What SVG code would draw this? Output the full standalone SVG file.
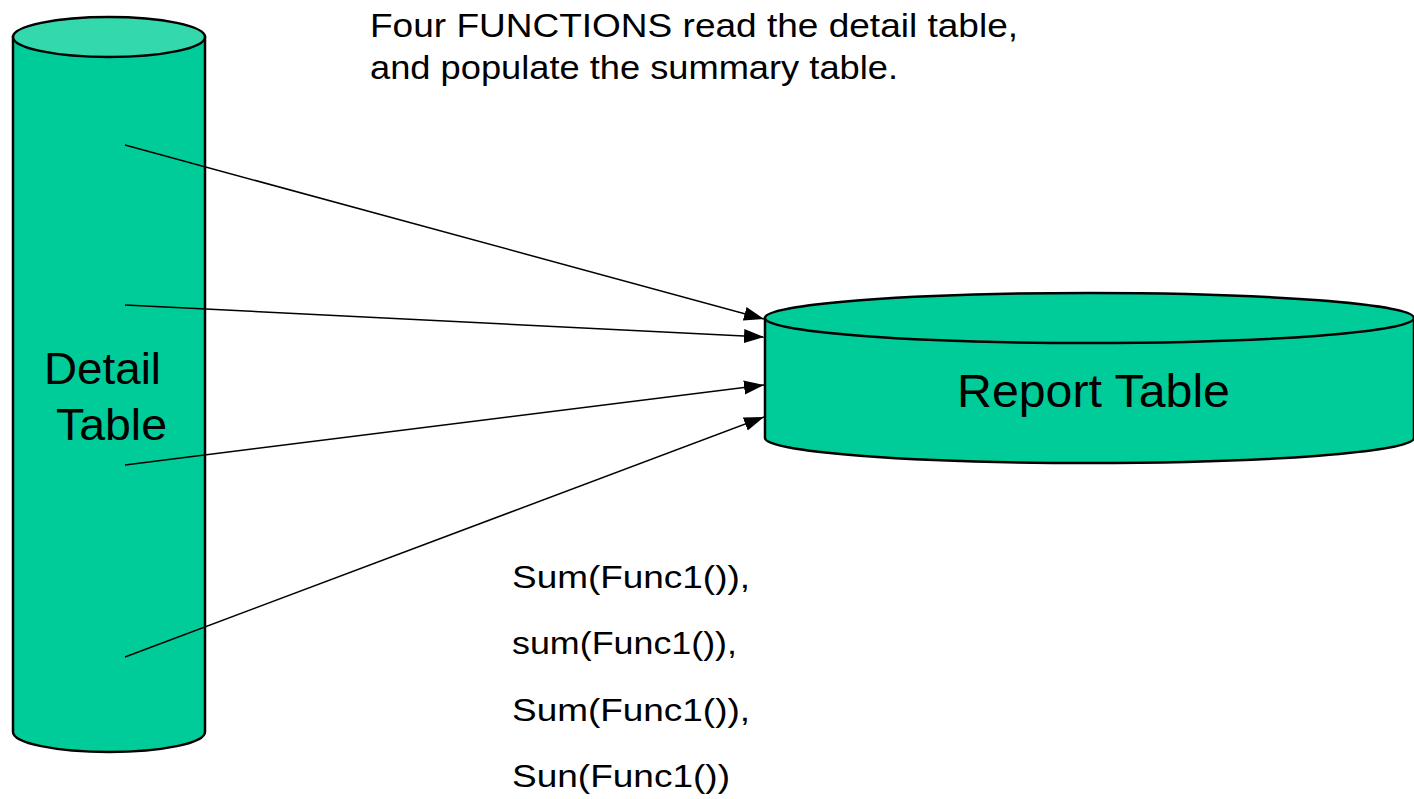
<svg xmlns="http://www.w3.org/2000/svg" width="1414" height="799" viewBox="0 0 1414 799">
<style>
.cyl{fill:#00CC99;stroke:#000;stroke-width:2.5}
.top{fill:#33D9AD;stroke:#000;stroke-width:2.5}
.t{font-family:"Liberation Sans",Arial,sans-serif;fill:#000}
.conn{stroke:#000;stroke-width:1.5;fill:none;marker-end:url(#ah)}
</style>
<defs>
<marker id="ah" markerWidth="20" markerHeight="16" refX="20" refY="8" orient="auto" markerUnits="userSpaceOnUse">
<path d="M0,1 L20,8 L0,15 Z" fill="#000"/>
</marker>
</defs>
<rect width="1414" height="799" fill="#fff"/>
<g id="detail-table">
<path class="cyl" d="M13,37 L13,732 A96,20 0 0 0 205,732 L205,37 Z"/>
<ellipse class="top" cx="109" cy="37" rx="96" ry="20"/>
<text class="t" x="44" y="384" font-size="45" textLength="117" lengthAdjust="spacingAndGlyphs">Detail</text>
<text class="t" x="56" y="440" font-size="45" textLength="111" lengthAdjust="spacingAndGlyphs">Table</text>
</g>
<g id="report-table">
<path class="cyl" d="M765,318 L765,438 A324.5,25 0 0 0 1414,438 L1414,318 Z"/>
<ellipse class="cyl" cx="1089.5" cy="318" rx="324.5" ry="25"/>
<text class="t" x="957" y="407" font-size="46" textLength="273" lengthAdjust="spacingAndGlyphs">Report Table</text>
</g>
<g id="connectors">
<line class="conn" x1="125" y1="145" x2="764" y2="319"/>
<line class="conn" x1="125" y1="305" x2="764" y2="337"/>
<line class="conn" x1="125" y1="465" x2="764" y2="385"/>
<line class="conn" x1="125" y1="657" x2="764" y2="417"/>
</g>
<g id="caption">
<text class="t" x="370" y="37" font-size="34" textLength="648" lengthAdjust="spacingAndGlyphs">Four FUNCTIONS read the detail table,</text>
<text class="t" x="370" y="79" font-size="34" textLength="528" lengthAdjust="spacingAndGlyphs">and populate the summary table.</text>
</g>
<g id="functions">
<text class="t" x="512" y="588" font-size="32" textLength="238" lengthAdjust="spacingAndGlyphs">Sum(Func1()),</text>
<text class="t" x="512" y="654" font-size="32" textLength="225" lengthAdjust="spacingAndGlyphs">sum(Func1()),</text>
<text class="t" x="512" y="721" font-size="32" textLength="238" lengthAdjust="spacingAndGlyphs">Sum(Func1()),</text>
<text class="t" x="512" y="787" font-size="32" textLength="218" lengthAdjust="spacingAndGlyphs">Sun(Func1())</text>
</g>
</svg>
